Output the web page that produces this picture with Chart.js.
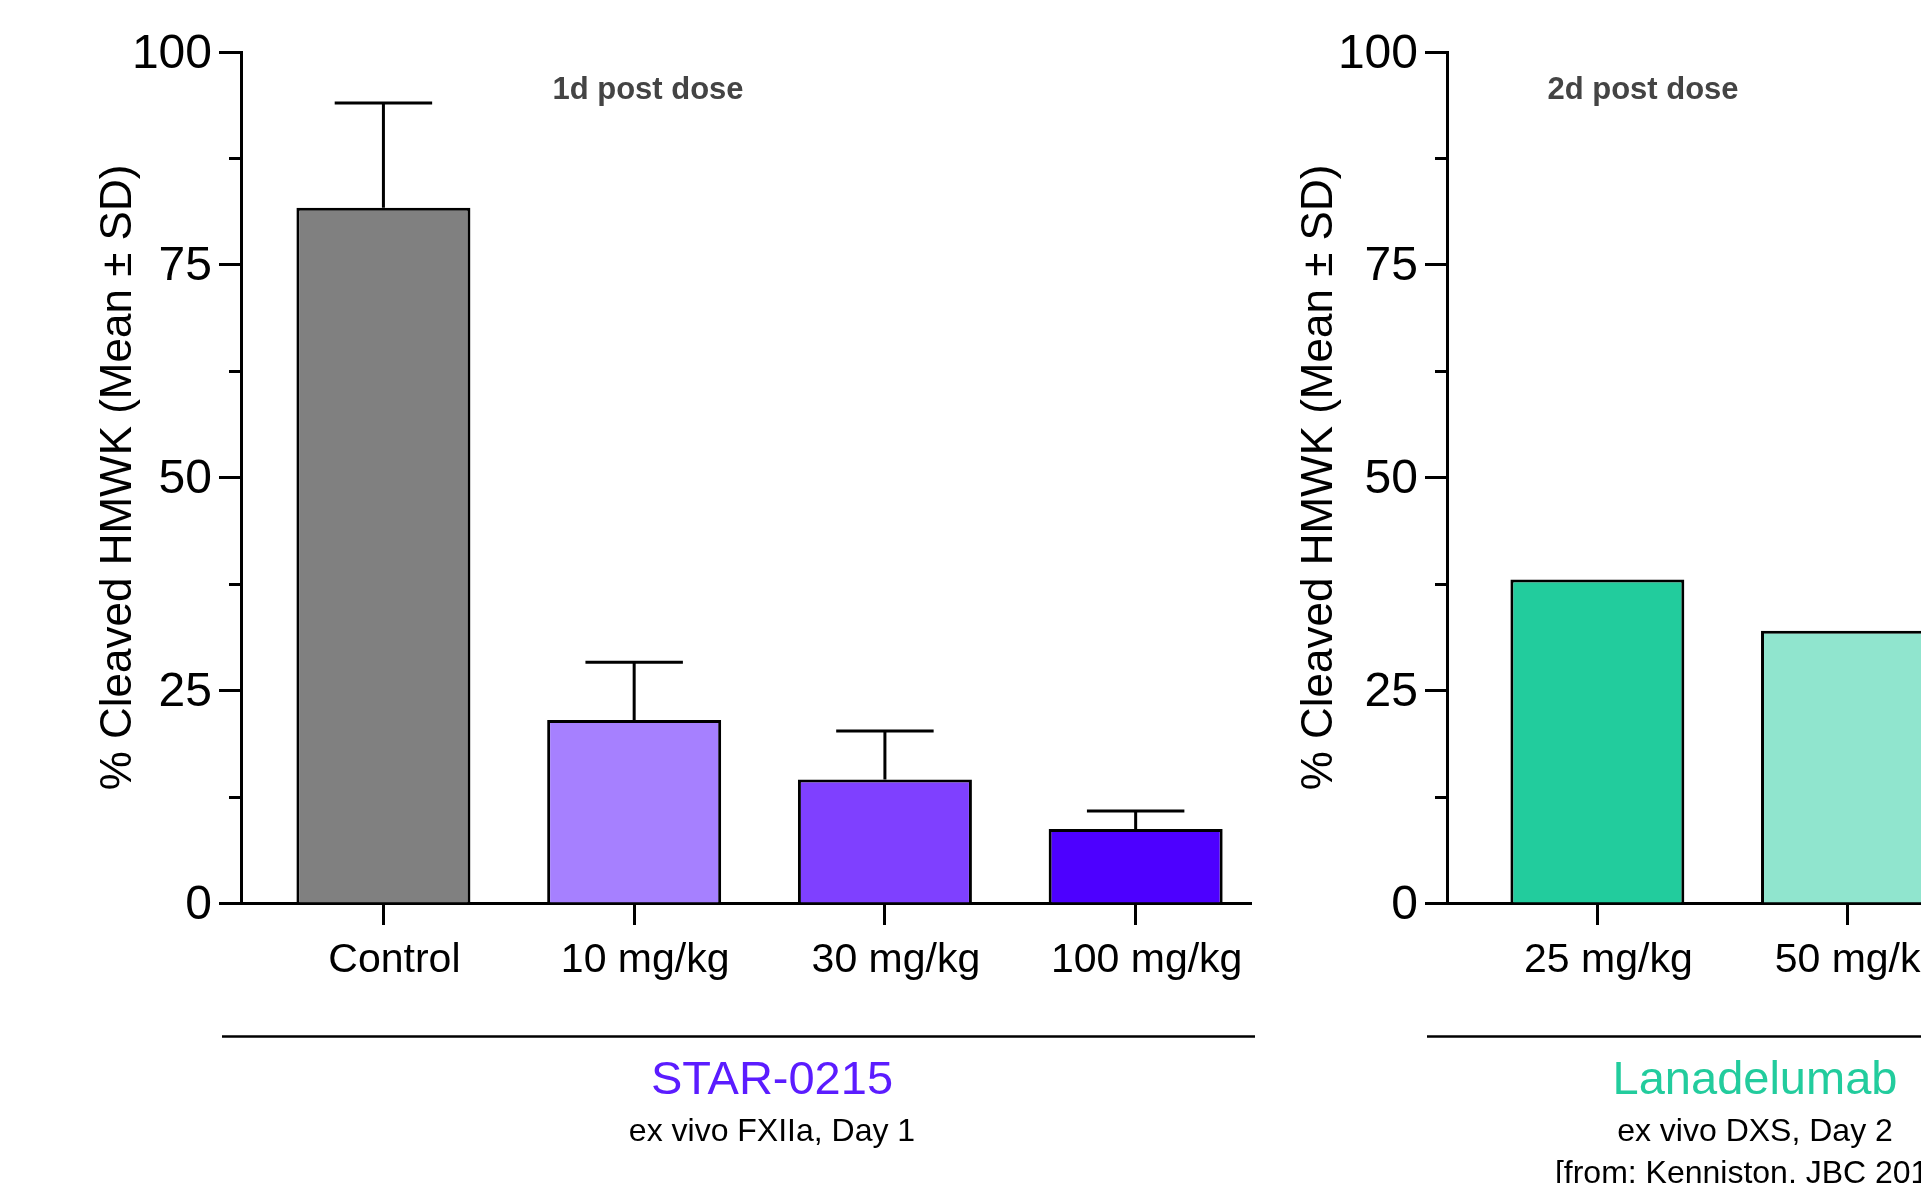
<!DOCTYPE html>
<html>
<head>
<meta charset="utf-8">
<script src="https://cdn.jsdelivr.net/npm/chart.js@4.4.0/dist/chart.umd.min.js"></script>
<style>
    html, body { margin: 0; padding: 0; background: #fff; overflow: hidden; width: 1921px; height: 1183px; }
    .panel { position: absolute; top: 0; width: 1300px; height: 1183px; }
    #leftPanel { left: 0; }
    #rightPanel { left: 1206px; }
</style>
</head>
<body>
<div class="panel" id="leftPanel"><canvas id="chartLeft"></canvas></div>
<div class="panel" id="rightPanel"><canvas id="chartRight"></canvas></div>
<script>
// STAR-0215, ex vivo FXIIa, Day 1
const starDoses = ['Control', '10 mg/kg', '30 mg/kg', '100 mg/kg'];
const starMean = [81.7, 21.5, 14.5, 8.7];
const starSD = [12.3, 6.8, 5.7, 2.1];
const starColors = ['#808080', '#a680ff', '#7f40ff', '#4d00ff'];

// Lanadelumab, ex vivo DXS, Day 2 (no SD shown)
const lanaDoses = ['25 mg/kg', '50 mg/kg'];
const lanaMean = [38.0, 32.0];
const lanaColors = ['#22cc9d', '#90e5ce'];

const yTicks = [0, 25, 50, 75, 100];
const yMinorTicks = [12.5, 37.5, 62.5, 87.5];
const yTitle = '% Cleaved HMWK (Mean \u00b1 SD)';

const FONT = "'Liberation Sans', Arial, Helvetica, sans-serif";

// upper whisker only (mean + SD) like the prism plot
const errorBars = {
    id: 'errorBars',
    afterDatasetsDraw(chart, args, opts) {
        if (!opts.sd) return;
        const ctx = chart.ctx;
        const y = chart.scales.y;
        const meta = chart.getDatasetMeta(0);
        ctx.save();
        ctx.strokeStyle = '#000';
        ctx.lineWidth = 3;
        meta.data.forEach(function (bar, i) {
            const top = y.getPixelForValue(opts.mean[i] + opts.sd[i]);
            const half = bar.width * 0.28;
            ctx.beginPath();
            ctx.moveTo(bar.x, bar.y);
            ctx.lineTo(bar.x, top);
            ctx.moveTo(bar.x - half, top);
            ctx.lineTo(bar.x + half, top);
            ctx.stroke();
        });
        ctx.restore();
    }
};

// short ticks between the labelled ones
const minorTicks = {
    id: 'minorTicks',
    afterDraw(chart) {
        const ctx = chart.ctx;
        const y = chart.scales.y;
        const left = chart.chartArea.left;
        ctx.save();
        ctx.strokeStyle = '#000';
        ctx.lineWidth = 3;
        yMinorTicks.forEach(function (v) {
            const py = Math.round(y.getPixelForValue(v)) + 0.5;
            ctx.beginPath();
            ctx.moveTo(left - 12, py);
            ctx.lineTo(left, py);
            ctx.stroke();
        });
        ctx.restore();
    }
};

// note on top + group line and captions under the axis
const panelText = {
    id: 'panelText',
    afterDraw(chart, args, opts) {
        const ctx = chart.ctx;
        ctx.save();
        ctx.textAlign = 'center';
        ctx.textBaseline = 'middle';
        ctx.fillStyle = '#444';
        ctx.font = 'bold 31px ' + FONT;
        ctx.fillText(opts.note, opts.noteX, opts.noteY);

        ctx.strokeStyle = '#000';
        ctx.lineWidth = 2.5;
        ctx.beginPath();
        ctx.moveTo(opts.lineFrom, opts.lineY);
        ctx.lineTo(opts.lineTo, opts.lineY);
        ctx.stroke();

        ctx.fillStyle = opts.groupColor;
        ctx.font = '47px ' + FONT;
        ctx.fillText(opts.group, opts.textX, opts.groupY);

        ctx.fillStyle = '#000';
        ctx.font = '32px ' + FONT;
        opts.sub.forEach(function (s, i) {
            ctx.fillText(s, opts.textX, opts.subY[i]);
        });
        ctx.restore();
    }
};

function makeChart(id, doses, means, colors, xMin, xMax, titlePad, sd, textOpts) {
    const ctx = document.getElementById(id);
    return new Chart(ctx, {
        type: 'bar',
        data: {
            datasets: [{
                data: doses.map(function (d, i) { return {x: i, y: means[i]}; }),
                backgroundColor: colors,
                borderColor: '#000',
                borderWidth: 3,
                categoryPercentage: 1,
                barPercentage: 0.694
            }]
        },
        options: {
            responsive: true,
            maintainAspectRatio: false,
            animation: false,
            layout: {padding: {left: 0, top: 52, right: 49, bottom: 170}},
            plugins: {
                legend: {display: false},
                tooltip: {enabled: false},
                errorBars: {sd: sd, mean: means},
                panelText: textOpts
            },
            scales: {
                x: {
                    type: 'linear',
                    min: xMin,
                    max: xMax,
                    offset: false,
                    afterBuildTicks: function (s) { s.ticks = doses.map(function (d, i) { return {value: i}; }); },
                    afterFit: function (s) { s.height = 110; },
                    ticks: {
                        callback: function (v) { return doses[v]; },
                        color: '#000',
                        font: {size: 41, family: FONT},
                        labelOffset: 11,
                        padding: 11,
                        autoSkip: false,
                        maxRotation: 0
                    },
                    grid: {drawOnChartArea: false, offset: false, tickLength: 22, tickWidth: 3, tickColor: '#000'},
                    border: {color: '#000', width: 3}
                },
                y: {
                    min: 0,
                    max: 100,
                    afterBuildTicks: function (s) { s.ticks = yTicks.map(function (v) { return {value: v}; }); },
                    afterFit: function (s) { s.width = 241; },
                    ticks: {color: '#000', font: {size: 48, family: FONT}, padding: 7, labelOffset: 2.5},
                    grid: {drawOnChartArea: false, tickLength: 22, tickWidth: 3, tickColor: '#000'},
                    border: {color: '#000', width: 3},
                    title: {
                        display: true,
                        text: yTitle,
                        color: '#000',
                        font: {size: 44, family: FONT, lineHeight: 1},
                        padding: {top: titlePad, bottom: 0}
                    }
                }
            }
        },
        plugins: [errorBars, minorTicks, panelText]
    });
}

makeChart('chartLeft', starDoses, starMean, starColors, -0.568, 3.46, 97, starSD, {
    note: '1d post dose', noteX: 648, noteY: 90.5,
    lineFrom: 222, lineTo: 1255, lineY: 1036.5,
    group: 'STAR-0215', groupColor: '#5b1cff', textX: 772, groupY: 1081,
    sub: ['ex vivo FXIIa, Day 1'], subY: [1132]
});

makeChart('chartRight', lanaDoses, lanaMean, lanaColors, -0.6, 3.43, 92, null, {
    note: '2d post dose', noteX: 437, noteY: 90.5,
    lineFrom: 221, lineTo: 1300, lineY: 1036.5,
    group: 'Lanadelumab', groupColor: '#22cc9d', textX: 549, groupY: 1081,
    sub: ['ex vivo DXS, Day 2', '[from: Kenniston, JBC 2014]'], subY: [1132, 1174]
});
</script>
</body>
</html>
